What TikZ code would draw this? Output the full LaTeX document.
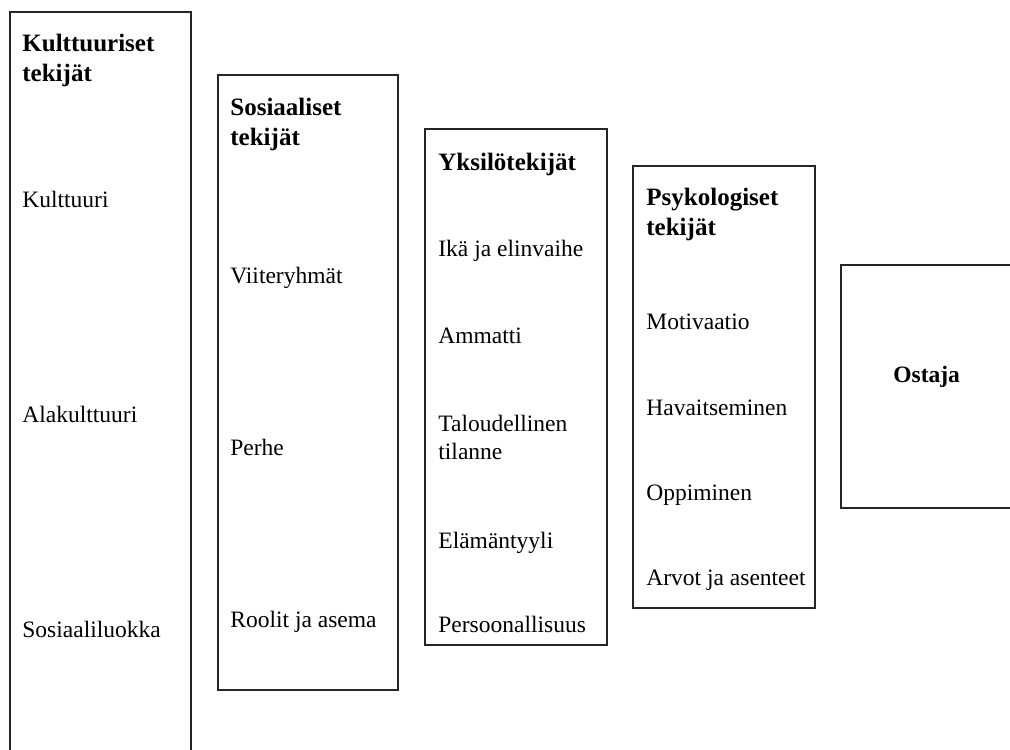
\documentclass[tikz,border=0pt]{standalone}
\usepackage{fontspec}
\setmainfont{Liberation Serif}
\usetikzlibrary{positioning}
\tikzset{
  col/.style  = {draw=black!85, line width=0.6pt},
  head/.style = {anchor=base west, align=left, inner sep=0pt,
                 font=\fontsize{12.5}{15}\selectfont\bfseries},
  item/.style = {anchor=base west, align=left, inner sep=0pt,
                 font=\fontsize{11.75}{14}\selectfont},
}

\begin{document}
\begin{tikzpicture}[x=0.5pt, y=-0.5pt]
\useasboundingbox (0,0) rectangle (1010,749);
\clip (0,0) rectangle (1010,749);

% columns
\draw[col] (10,12) rectangle (191,800);
\draw[col] (218,75) rectangle (398,690);
\draw[col] (425,129) rectangle (607,645);
\draw[col] (633,166) rectangle (815,608);
\draw[col] (841,265) rectangle (1060,508);

% cultural (multi-line nodes sit on their last line)
\node[head] (kh) at (22,82) {Kulttuuriset\\tekijät};
\node[item] (k1) at (22,207) {Kulttuuri};
\node[item] (k2) at (22,422) {Alakulttuuri};
\node[item] (k3) at (22,637) {Sosiaaliluokka};

% social
\node[head] (sh) at (230,145) {Sosiaaliset\\tekijät};
\node[item] (s1) at (230,283) {Viiteryhmät};
\node[item] (s2) at (230,455) {Perhe};
\node[item] (s3) at (230,627) {Roolit ja asema};

% personal
\node[head] (yh) at (438,170) {Yksilötekijät};
\node[item] (y1) at (438,256) {Ikä ja elinvaihe};
\node[item] (y2) at (438,343) {Ammatti};
\node[item] (y3) at (438,459) {Taloudellinen\\tilanne};
\node[item] (y4) at (438,548) {Elämäntyyli};
\node[item] (y5) at (438,632) {Persoonallisuus};

% psychological
\node[head] (ph) at (646,235) {Psykologiset\\tekijät};
\node[item] (p1) at (646,329) {Motivaatio};
\node[item] (p2) at (646,415) {Havaitseminen};
\node[item] (p3) at (646,500) {Oppiminen};
\node[item] (p4) at (646,585) {Arvot ja asenteet};

% buyer
\node[item, font=\fontsize{11.75}{14}\selectfont\bfseries] (os) at (893,382) {Ostaja};
\end{tikzpicture}
\end{document}
